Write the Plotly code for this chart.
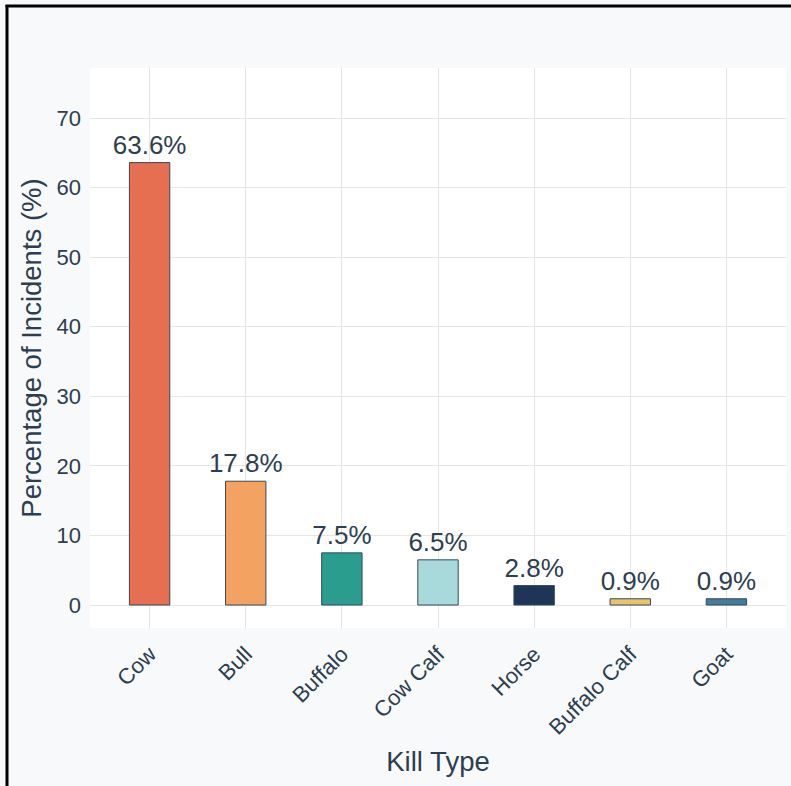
import plotly.graph_objects as go

categories = ["Cow", "Bull", "Buffalo", "Cow Calf", "Horse", "Buffalo Calf", "Goat"]
values = [63.6, 17.8, 7.5, 6.5, 2.8, 0.9, 0.9]
labels = ["63.6%", "17.8%", "7.5%", "6.5%", "2.8%", "0.9%", "0.9%"]
colors = ["#e76f51", "#f4a261", "#2a9d8f", "#a8dadc", "#1d3557", "#e9c46a", "#457b9d"]
y_ticks = [0, 10, 20, 30, 40, 50, 60, 70]

W, H = 791, 786
ML, MR, MT, MB = 90, 5, 68, 158
pw, ph = W - ML - MR, H - MT - MB

def px_to_paper_x(px):
    return (px - ML) / pw

def px_to_paper_y(py):
    return (H - MB - py) / ph

txt = "#2c3e50"
font_family = "Liberation Sans, Arial, sans-serif"

fig = go.Figure(go.Bar(
    x=categories, y=values, text=labels, textposition="outside",
    textfont=dict(size=26, color=txt, family=font_family),
    constraintext="none",
    marker=dict(color=colors, line=dict(color="#34495e", width=1)),
    width=0.42, cliponaxis=False,
))

fig.update_layout(
    width=W, height=H,
    margin=dict(l=ML, r=MR, t=MT, b=MB),
    paper_bgcolor="#f8f9fa", plot_bgcolor="white",
    font=dict(family=font_family, color=txt),
    showlegend=False,
    uniformtext=dict(mode=False),
    xaxis=dict(
        range=[-0.62, 6.62], tickangle=-45, tickfont=dict(size=22, color=txt),
        showgrid=True, gridcolor="#e5e5e5", gridwidth=1,
        title=dict(text="Kill Type", font=dict(size=27.5, color=txt), standoff=13),
        ticks="", zeroline=False, ticklabelstandoff=8,
    ),
    yaxis=dict(
        range=[-3.3, 77.2], tickvals=y_ticks, tickfont=dict(size=22, color=txt),
        showgrid=True, gridcolor="#e5e5e5", gridwidth=1,
        title=dict(text="Percentage of Incidents (%)", font=dict(size=27.5, color=txt), standoff=6),
        ticks="", zeroline=False, ticklabelstandoff=8,
    ),
    shapes=[
        dict(type="line", xref="paper", yref="paper",
             x0=px_to_paper_x(7), x1=px_to_paper_x(7),
             y0=px_to_paper_y(790), y1=px_to_paper_y(5),
             line=dict(color="black", width=3)),
        dict(type="line", xref="paper", yref="paper",
             x0=px_to_paper_x(5.5), x1=px_to_paper_x(795),
             y0=px_to_paper_y(6), y1=px_to_paper_y(6),
             line=dict(color="black", width=3)),
    ],
)

fig.write_html("out.html")
